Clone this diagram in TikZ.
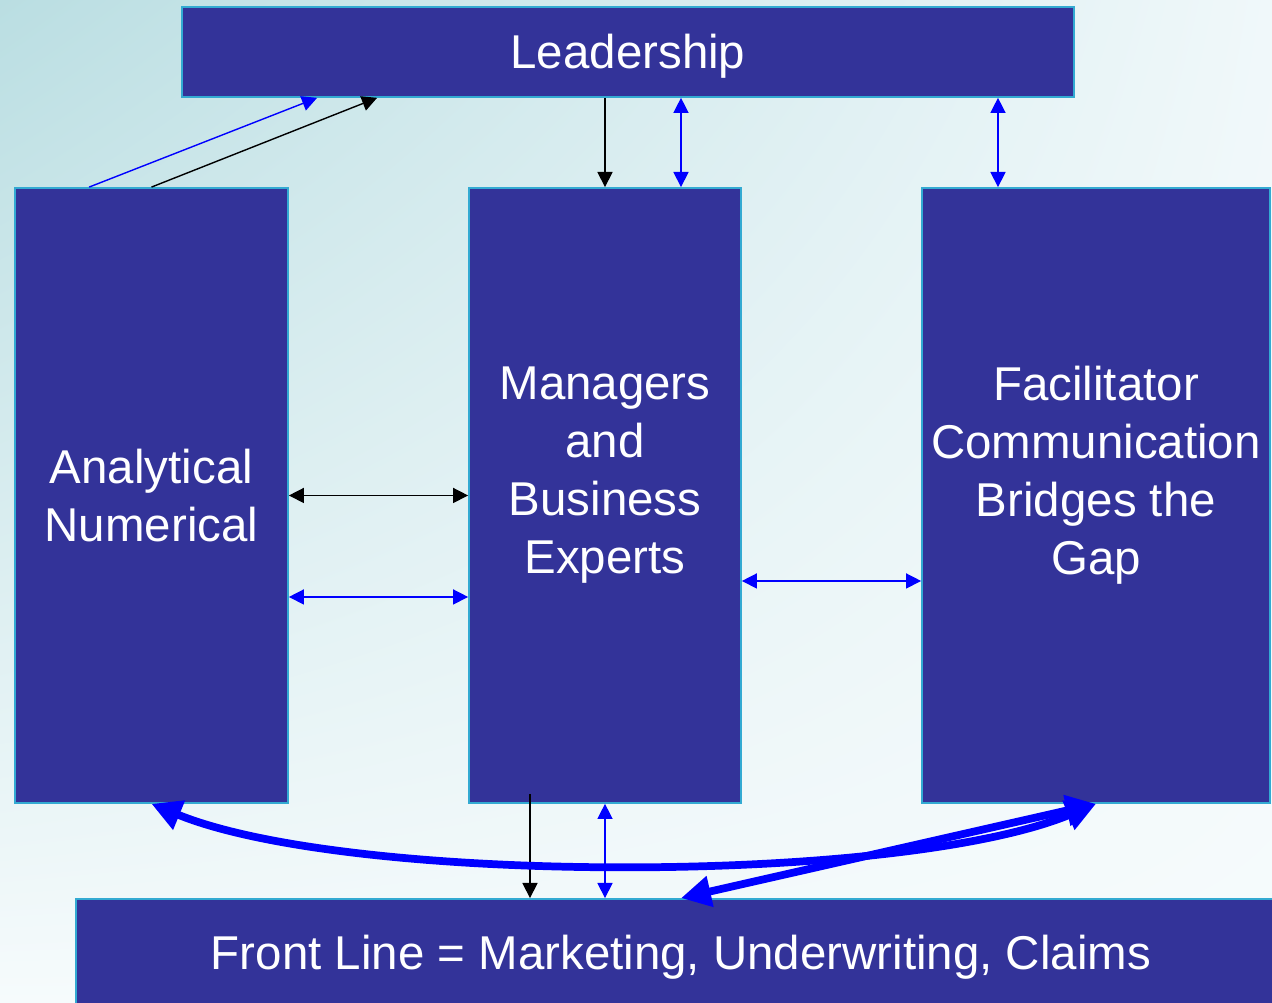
\documentclass[tikz,border=0pt]{standalone}
\usepackage{fontspec}
\setmainfont{Liberation Sans}
\usetikzlibrary{arrows.meta,shadings}
\definecolor{boxblue}{RGB}{51,51,153}
\definecolor{boxedge}{RGB}{51,170,210}
\definecolor{paleteal}{RGB}{186,222,226}
\definecolor{paletop}{RGB}{240,248,250}
\definecolor{paleend}{RGB}{246,251,252}

\begin{document}
\begin{tikzpicture}[
  block/.style={draw=boxedge, line width=0.5pt, fill=boxblue, text=white,
    align=center, inner sep=0pt, font=\fontsize{13.5}{16.5}\selectfont},
  oneway/.style={line width=0.4pt, arrows={-Triangle[length=4.3pt,width=4.3pt]}},
  twoway/.style={line width=0.4pt,
    arrows={Triangle[length=4.3pt,width=4.3pt]-Triangle[length=4.3pt,width=4.3pt]}},
  bigway/.style={blue, line width=2.2pt,
    arrows={Triangle[length=8.5pt,width=8.5pt]-Triangle[length=8.5pt,width=8.5pt]}}
]
\useasboundingbox (0,0) rectangle (12.72,10.03);
%% background
\shade[upper left=paleteal, upper right=paletop, lower left=paleend, lower right=paleend]
  (0,0) rectangle (12.72,10.03);

%% boxes
\node[block, minimum width=8.92cm, minimum height=0.90cm, text height=0.43cm] (lead) at (6.28,9.51) {Leadership};
\node[block, minimum width=2.73cm, minimum height=6.15cm] (anal) at (1.515,5.075) {Analytical\\Numerical};
\node[block, minimum width=2.72cm, minimum height=6.15cm] (mgr) at (6.05,5.075) {Managers\\and\\Business\\Experts\\[-0.08cm]~};
\node[block, minimum width=3.48cm, minimum height=6.15cm] (fac) at (10.96,5.075) {Facilitator\\Communication\\Bridges the\\Gap\\[-0.08cm]~};
\node[block, minimum width=12.10cm, minimum height=1.08cm, text height=0.43cm] (front) at (6.81,0.50) {Front Line = Marketing, Underwriting, Claims};

\coordinate (mtop) at ([xshift=0.76cm]mgr.north);
\coordinate (ftop) at ([xshift=-0.98cm]fac.north);
\coordinate (mbot) at ([xshift=-0.75cm,yshift=0.10cm]mgr.south);

%% leadership links
\draw[oneway] (mgr.north |- lead.south) -- (mgr.north);
\draw[twoway,blue] (mtop |- lead.south) -- (mtop);
\draw[twoway,blue] (ftop |- lead.south) -- (ftop);
\draw[oneway,blue] ([xshift=0.75cm]anal.north west) -- ([xshift=1.36cm]lead.south west);
\draw[oneway] (anal.north) -- ([xshift=1.96cm]lead.south west);

%% side links
\draw[twoway] (anal.east) -- (mgr.west);
\draw[twoway,blue] ([yshift=-1.015cm]anal.east) -- ([yshift=-1.015cm]mgr.west);
\draw[twoway,blue] ([yshift=-0.855cm]mgr.east) -- ([yshift=-0.855cm]fac.west);

%% down to the front line
\draw[oneway] (mbot) -- (mbot |- front.north);
\draw[twoway,blue] (mgr.south) -- (mgr.south |- front.north);
\draw[bigway] (fac.south) .. controls (9.0,1.18) and (3.5,1.18) .. (anal.south);
\draw[bigway] (fac.south) -- (front.north);
\end{tikzpicture}
\end{document}
